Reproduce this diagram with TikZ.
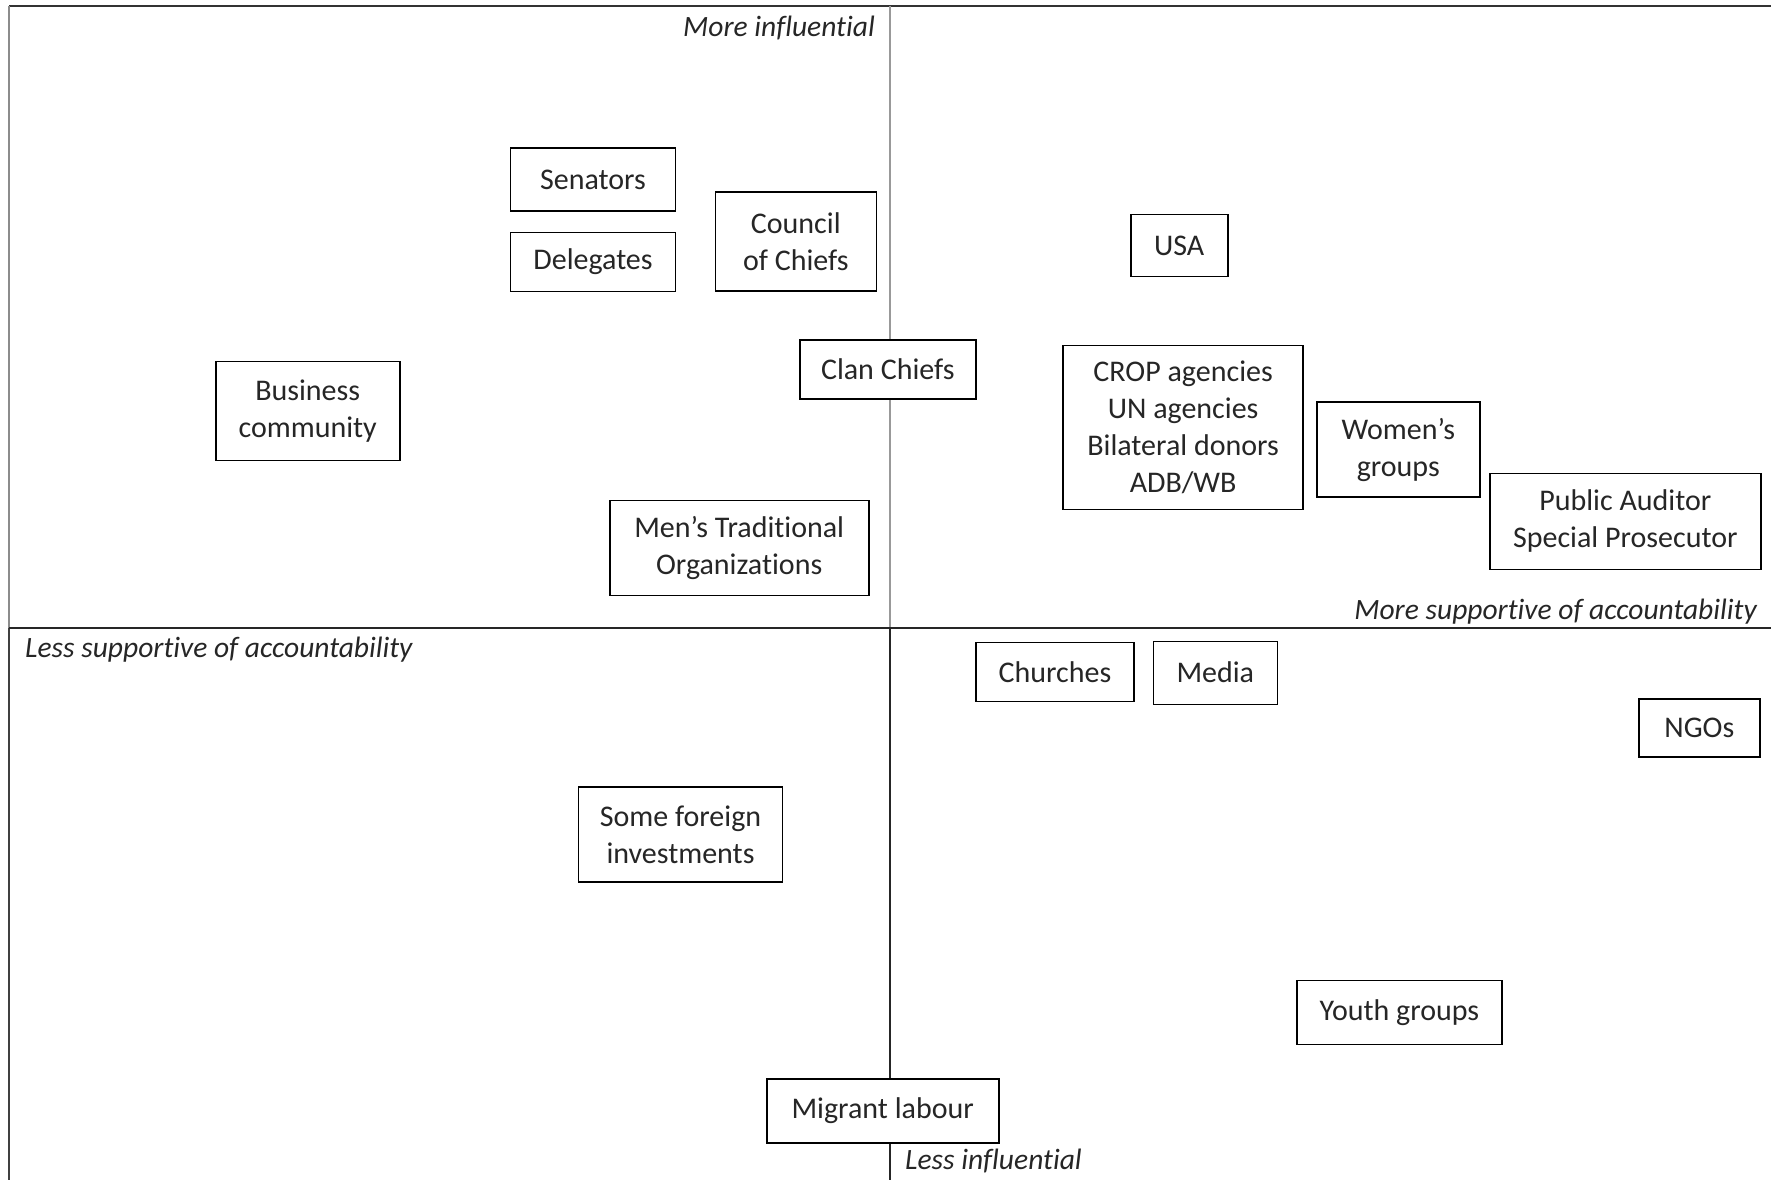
\documentclass[tikz,border=0pt]{standalone}
\usepackage{fontspec}
\setmainfont{Carlito}[Ligatures={NoCommon}]
\begin{document}
\begin{tikzpicture}[x=1pt,y=-1pt,
  actor/.style={draw=black,fill=white,line width=1.6pt,inner sep=0pt,align=center,
    font=\fontsize{30}{37}\selectfont,text=black!85},
  axislabel/.style={inner sep=0pt,font=\fontsize{29.5}{36}\selectfont\itshape,text=black!85}]
\useasboundingbox (0,0) rectangle (1771,1180);
% frame and axes
\coordinate (tl) at (9,6);
\coordinate (tr) at (1771,6);
\coordinate (ml) at (9,628);
\coordinate (mr) at (1771,628);
\coordinate (bl) at (9,1180);
\coordinate (vt) at (890,6);
\coordinate (vm) at (890,628);
\coordinate (vb) at (890,1180);
\draw[line width=2.6pt,black!80] (tl) -- (tr);
\draw[line width=2pt,black!45] (tl) -- (ml);
\draw[line width=2.6pt,black!75] (ml) -- (bl);
\draw[line width=2pt,black!40] (vt) -- (vm);
\draw[line width=1.6pt,black!85] (vm) -- (vb);
\draw[line width=1.8pt,black!85] (ml) -- (mr);
% axis labels
\node[axislabel,anchor=east] (moreinf) at (875,28) {More influential};
\node[axislabel,anchor=west] (lesssup) at (25,650) {Less supportive of accountability};
\node[axislabel,anchor=east] (moresup) at (1757,612) {More supportive of accountability};
\node[axislabel,anchor=west] (lessinf) at (905,1161) {Less influential};
% actors
\node[actor,minimum width=165pt,minimum height=63pt] (senators) at (593,179.6) {Senators};
\node[actor,minimum width=165pt,minimum height=59pt] (delegates) at (593,262) {Delegates};
\node[actor,minimum width=161pt,minimum height=99pt] (council) at (795.8,241.7) {Council\\of Chiefs};
\node[actor,minimum width=97pt,minimum height=62pt] (usa) at (1179.2,245.6) {USA};
\node[actor,minimum width=176pt,minimum height=59pt] (clan) at (887.8,369.3) {Clan Chiefs};
\node[actor,minimum width=184pt,minimum height=99pt] (business) at (307.7,411.1) {Business\\community};
\node[actor,minimum width=240pt,minimum height=164pt] (crop) at (1183.1,427.5) {CROP agencies\\UN agencies\\Bilateral donors\\ADB/WB};
\node[actor,minimum width=163pt,minimum height=95pt] (women) at (1398.3,449.5) {Women’s\\groups};
\node[actor,minimum width=271pt,minimum height=96pt] (auditor) at (1625.3,521.3) {Public Auditor\\Special Prosecutor};
\node[actor,minimum width=259pt,minimum height=95pt] (mens) at (739.2,547.8) {Men’s Traditional\\Organizations};
\node[actor,minimum width=158pt,minimum height=59pt] (churches) at (1055,672) {\raisebox{-2pt}{Churches}};
\node[actor,minimum width=124pt,minimum height=63pt] (media) at (1215.3,673.1) {\raisebox{3pt}{Media}};
\node[actor,minimum width=121pt,minimum height=58pt] (ngos) at (1699.3,728) {NGOs};
\node[actor,minimum width=204pt,minimum height=95pt] (foreign) at (680.5,834.7) {Some foreign\\investments};
\node[actor,minimum width=205pt,minimum height=64pt] (youth) at (1399.4,1012.6) {Youth groups};
\node[actor,minimum width=232pt,minimum height=64pt] (migrant) at (882.7,1110.8) {Migrant labour};
\end{tikzpicture}
\end{document}
